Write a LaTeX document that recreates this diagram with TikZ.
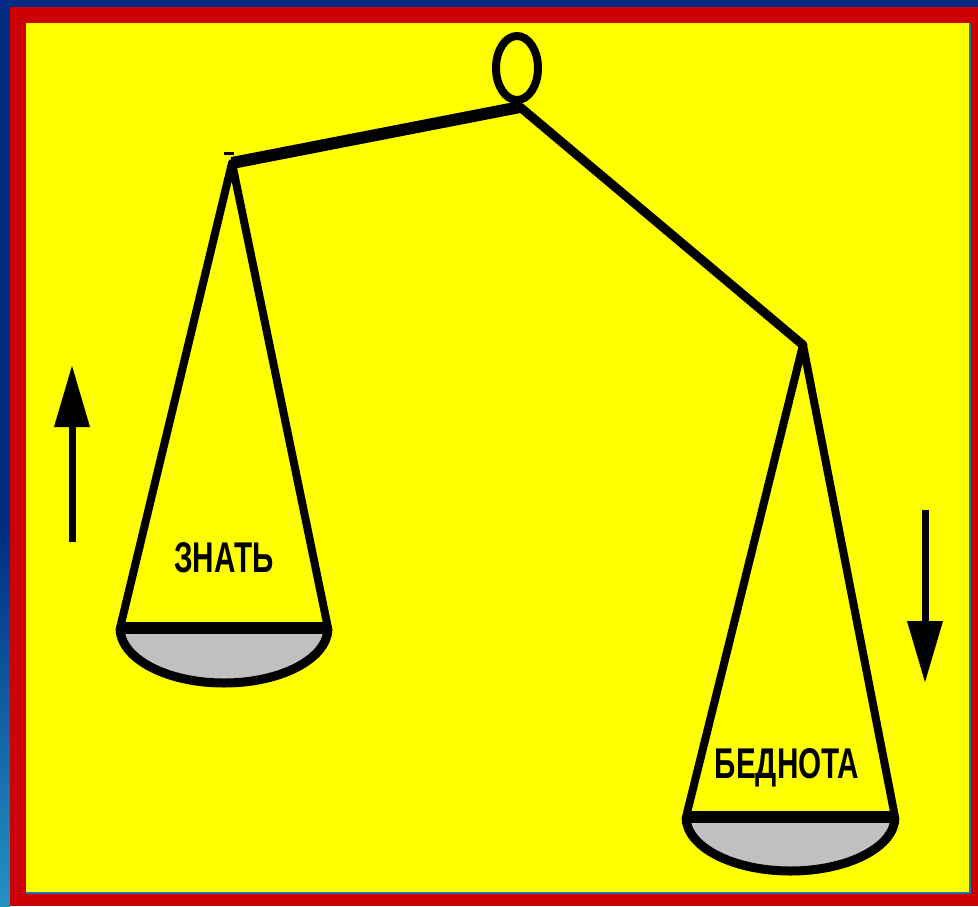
\documentclass[tikz,border=0pt]{standalone}
\usepackage{fontspec}
\setmainfont{Liberation Sans}
\usetikzlibrary{arrows.meta}

\definecolor{fondoblu}{HTML}{002B80}
\definecolor{bluchiaro}{HTML}{2392C4}
\definecolor{rosso}{HTML}{CC0000}
\definecolor{giallo}{HTML}{FFFF00}
\definecolor{piatto}{HTML}{C0C0C0}

\tikzset{
  corda/.style={line width=8pt, line cap=round, line join=round},
  piattello/.style={fill=piatto, draw=black, line width=9pt},
  scritta/.style={font=\bfseries\fontsize{43}{43}\selectfont, xscale=0.69, inner sep=0pt},
  freccia/.style={line width=7pt, -{Triangle[width=34pt,length=62pt]}}
}

\begin{document}
\begin{tikzpicture}[x = 1pt, y = -1pt]
    \useasboundingbox (0,0) rectangle (978,906);

    % Cornice
    \fill[fondoblu] (0,0) rectangle (978,906);
    \shade[top color=fondoblu, bottom color=bluchiaro] (0,520) rectangle (10,906);
    \fill[rosso] (10,7) rectangle (978,906);
    \fill[bluchiaro!70!fondoblu] (26,23) rectangle (971,894);
    \fill[giallo] (26,23) rectangle (969,892);

    % Punti della bilancia
    \coordinate (perno) at (520,107);
    \coordinate (gancioS) at (232,163);
    \coordinate (gancioD) at (803,345);
    \coordinate (bordoSa) at (120,628);
    \coordinate (bordoSb) at (328,628);
    \coordinate (bordoDa) at (686,817);
    \coordinate (bordoDb) at (895,817);

    % Anello
    \draw[line width=8pt] (517,68) ellipse [x radius=21, y radius=32];

    % Giogo
    \draw[line width=12pt] (gancioS) -- (perno);
    \draw[line width=9pt, line cap=round] (perno) -- (gancioD);
    \draw[line width=3pt] (224,153) -- (234,153);

    % Piatto sinistro
    \filldraw[piattello] (bordoSa) arc[start angle=180, end angle=0, x radius=104, y radius=55];
    \draw[corda] (bordoSa) -- (gancioS) -- (bordoSb);
    \draw[line width=12pt] (bordoSa) -- (bordoSb);

    % Piatto destro
    \filldraw[piattello] (bordoDa) arc[start angle=180, end angle=0, x radius=104.5, y radius=54];
    \draw[corda] (bordoDa) -- (gancioD) -- (bordoDb);
    \draw[line width=12pt] (bordoDa) -- (bordoDb);

    % Etichette
    \node[scritta] (znat) at (224,558) {ЗНАТЬ};
    \node[scritta] (bednota) at (787,768) {БЕДНОТА};

    % Frecce
    \coordinate (suA) at (72,542);
    \coordinate (suB) at (72,365);
    \coordinate (giuA) at (925,510);
    \coordinate (giuB) at (925,683);
    \draw[freccia] (suA) -- (suB);
    \draw[freccia] (giuA) -- (giuB);

\end{tikzpicture}
\end{document}
